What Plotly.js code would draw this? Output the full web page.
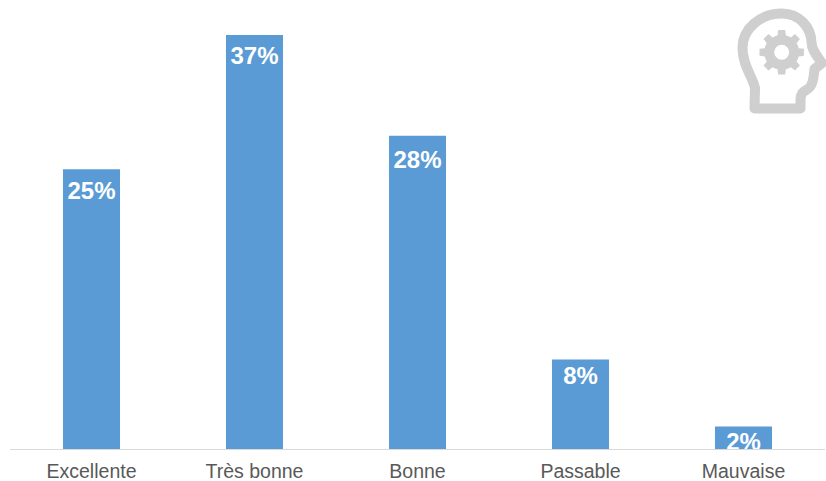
<!DOCTYPE html>
<html>
<head>
<meta charset="utf-8">
<script src="https://cdn.plot.ly/plotly-3.0.1.min.js"></script>
<style>html,body{margin:0;padding:0;background:#fff;overflow:hidden}</style>
</head>
<body>
<div id="chart" style="width:826px;height:481px"></div>
<script>
const categories = ["Excellente", "Très bonne", "Bonne", "Passable", "Mauvaise"];
const shares = [25, 37, 28, 8, 2];
const labels = ["25%", "37%", "28%", "8%", "2%"];

// Head-and-gear pictogram, built as an inline SVG placed in the top right corner
function gearPath(cx, cy, outer, root, teeth) {
  let d = "";
  const step = 2 * Math.PI / teeth;
  for (let i = 0; i < teeth; i++) {
    const a = i * step - Math.PI / 2;
    const pts = [
      [root, a - step * 0.5], [root, a - step * 0.3],
      [outer, a - step * 0.2], [outer, a + step * 0.2],
      [root, a + step * 0.3]
    ];
    pts.forEach(([r, t], j) => {
      d += (i === 0 && j === 0 ? "M" : "L") +
        (cx + r * Math.cos(t)).toFixed(2) + " " + (cy + r * Math.sin(t)).toFixed(2);
    });
  }
  return d + "Z";
}
function circlePath(cx, cy, r) {
  return `M${cx - r} ${cy}a${r} ${r} 0 1 0 ${2 * r} 0a${r} ${r} 0 1 0 ${-2 * r} 0Z`;
}
const headOutline = "M28.5 108.5 L29 88 C27 77 16.5 66 16.5 48 C16.5 29 34 13.5 56 13.5 C73 13.5 85 27 85.5 42 C85.5 50 91 56 96 63 L88.5 69 C87.5 76 88 82 84 87 C80 92 74.5 90 74.5 100 L74.5 108.5 Z";
const iconSvg = `<svg xmlns="http://www.w3.org/2000/svg" width="100" height="120" viewBox="0 0 100 120">` +
  `<path d="${headOutline}" fill="none" stroke="#cfcfcf" stroke-width="10" stroke-linejoin="round"/>` +
  `<path d="${gearPath(55.7, 52.3, 22.5, 17.5, 8)}${circlePath(55.7, 52.3, 7.5)}" fill="#cfcfcf" fill-rule="evenodd"/>` +
  `</svg>`;

const bars = {
  type: "bar",
  x: categories,
  y: shares,
  width: 0.35,
  marker: {color: "#5B9BD5", line: {width: 0}},
  hoverinfo: "skip"
};

// Value labels hang below each bar top; the invisible marker sets their offset
const valueLabels = {
  type: "scatter",
  mode: "markers+text",
  x: categories,
  y: shares,
  text: labels,
  textposition: "bottom center",
  cliponaxis: true,
  marker: {size: [17.5, 16, 21, 9.5, 6.5], color: "rgba(0,0,0,0)", line: {width: 0}},
  textfont: {family: "Liberation Sans, Arial, sans-serif", size: 24, color: "#ffffff", weight: "bold"},
  hoverinfo: "skip"
};

const layout = {
  width: 826,
  height: 481,
  margin: {l: 10, r: 1, t: 35, b: 32},
  paper_bgcolor: "#ffffff",
  plot_bgcolor: "#ffffff",
  showlegend: false,
  xaxis: {
    type: "category",
    range: [-0.5, 4.5],
    showgrid: false,
    zeroline: false,
    showline: true,
    linecolor: "#d9d9d9",
    linewidth: 1,
    ticks: "",
    ticklabelstandoff: 5,
    ticklabeloverflow: "allow",
    tickfont: {family: "Liberation Sans, Arial, sans-serif", size: 19.5, color: "#595959"}
  },
  yaxis: {
    range: [0, 37],
    visible: false,
    showgrid: false,
    zeroline: false
  },
  images: [{
    source: "data:image/svg+xml;utf8," + encodeURIComponent(iconSvg),
    xref: "paper", yref: "paper",
    x: (726 - 10) / 815, y: 1 + 35 / 414,
    sizex: 100 / 815, sizey: 120 / 414,
    xanchor: "left", yanchor: "top",
    sizing: "stretch",
    layer: "above"
  }]
};

Plotly.newPlot("chart", [bars, valueLabels], layout, {displayModeBar: false, staticPlot: true});
</script>
</body>
</html>
